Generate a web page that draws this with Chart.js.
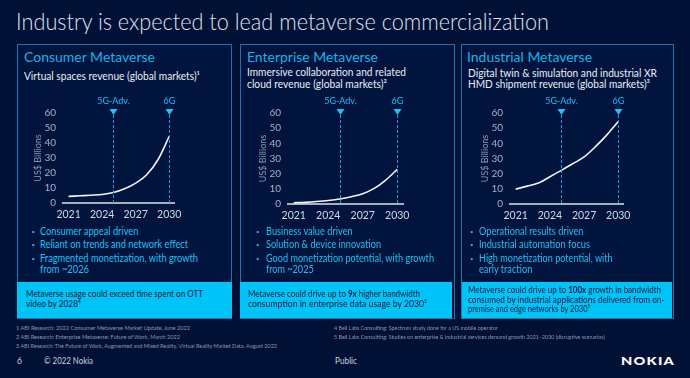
<!DOCTYPE html>
<html><head><meta charset="utf-8">
<script src="https://cdn.jsdelivr.net/npm/chart.js@4.4.1/dist/chart.umd.min.js"></script>
<style>
html,body{margin:0;padding:0;}
body{width:690px;height:378px;background:#001135;position:relative;overflow:hidden;font-family:Lato,"Open Sans",sans-serif;}
.panel{position:absolute;top:44px;width:213px;height:273px;border:1px solid #1479b0;background:#00143d;box-sizing:content-box;}
.box{position:absolute;top:282px;height:36px;background:#00c4f7;}
.t{position:absolute;white-space:nowrap;line-height:0;height:0;transform-origin:0 0;}
.cv{position:absolute;}
.c{color:#1fc0f3;}
.d{color:#4aa9d6;font-size:6px;}
.bt{color:#0a1a3c;}
.fn{color:#8d98ad;font-size:5.6px;}
.ft{color:#c9d0dc;font-size:8.5px;}
</style></head><body>
<div class="t" data-w="533" style="left:16px;top:20.5px;font-size:23px;font-weight:300;color:#dfe5ef">Industry is expected to lead metaverse commercialization</div>

<div class="panel" style="left:17px"></div>
<div class="panel" style="left:240px"></div>
<div class="panel" style="left:461px;width:211px"></div>
<div class="box" style="left:17px;width:215px"></div>
<div class="box" style="left:240px;width:212px"></div>
<div class="box" style="left:462px;width:210px"></div>

<div class="t" data-w="131" style="left:24px;top:57.3px;font-size:14px;color:#19b3e9">Consumer Metaverse</div>
<div class="t" data-w="131" style="left:246.7px;top:57.3px;font-size:14px;color:#19b3e9">Enterprise Metaverse</div>
<div class="t" data-w="125" style="left:467px;top:57.3px;font-size:14px;color:#19b3e9">Industrial Metaverse</div>

<div class="t" data-w="176" style="left:24px;top:76px;font-size:10.5px;color:#e9eef6">Virtual spaces revenue (global markets)¹</div>
<div class="t" data-w="159" style="left:246.7px;top:72px;font-size:10.5px;color:#e9eef6">Immersive collaboration and related</div>
<div class="t" data-w="140" style="left:246.7px;top:83.6px;font-size:10.5px;color:#e9eef6">cloud revenue (global markets)²</div>
<div class="t" data-w="189" style="left:467.7px;top:73px;font-size:10.5px;color:#e9eef6">Digital twin &amp; simulation and industrial XR</div>
<div class="t" data-w="182" style="left:467.7px;top:84.3px;font-size:10.5px;color:#e9eef6">HMD shipment revenue (global markets)³</div>

<canvas id="c1" class="cv" width="160" height="133" style="left:27px;top:92px"></canvas>
<canvas id="c2" class="cv" width="163" height="134" style="left:252px;top:92px"></canvas>
<canvas id="c3" class="cv" width="162" height="134" style="left:474px;top:92px"></canvas>

<!-- bullets -->
<div class="t d" style="left:31.5px;top:231.5px">•</div>
<div class="t c" data-w="98.4" style="left:40.4px;top:230.6px;font-size:10.5px">Consumer appeal driven</div>
<div class="t d" style="left:31.5px;top:245px">•</div>
<div class="t c" data-w="148" style="left:40.4px;top:244.1px;font-size:10.5px">Reliant on trends and network effect</div>
<div class="t d" style="left:31.5px;top:258.5px">•</div>
<div class="t c" data-w="158" style="left:40.4px;top:257.6px;font-size:10.5px">Fragmented monetization, with growth</div>
<div class="t c" data-w="49" style="left:40.4px;top:269.1px;font-size:10.5px">from ~2026</div>

<div class="t d" style="left:256px;top:231.5px">•</div>
<div class="t c" data-w="86.7" style="left:265.9px;top:230.6px;font-size:10.5px">Business value driven</div>
<div class="t d" style="left:256px;top:245px">•</div>
<div class="t c" data-w="115" style="left:265.9px;top:244.1px;font-size:10.5px">Solution &amp; device innovation</div>
<div class="t d" style="left:256px;top:258.5px">•</div>
<div class="t c" data-w="168" style="left:265.9px;top:257.6px;font-size:10.5px">Good monetization potential, with growth</div>
<div class="t c" data-w="47.7" style="left:265.9px;top:269.1px;font-size:10.5px">from ~2025</div>

<div class="t d" style="left:470px;top:231.5px">•</div>
<div class="t c" data-w="104.5" style="left:479px;top:230.6px;font-size:10.5px">Operational results driven</div>
<div class="t d" style="left:470px;top:245px">•</div>
<div class="t c" data-w="111" style="left:479px;top:244.1px;font-size:10.5px">Industrial automation focus</div>
<div class="t d" style="left:470px;top:258.5px">•</div>
<div class="t c" data-w="133.6" style="left:479px;top:257.6px;font-size:10.5px">High monetization potential, with</div>
<div class="t c" data-w="53.3" style="left:479px;top:269.1px;font-size:10.5px">early traction</div>

<!-- blue box text -->
<div class="t bt" data-w="177" style="left:26px;top:294px;font-size:9px">Metaverse usage could exceed time spent on OTT</div>
<div class="t bt" data-w="54.7" style="left:26px;top:304px;font-size:9px">video by 2028⁴</div>
<div class="t bt" data-w="172" style="left:247.6px;top:294px;font-size:9px">Metaverse could drive up to <b>9x</b> higher bandwidth</div>
<div class="t bt" data-w="179" style="left:247.6px;top:304px;font-size:9px">consumption in enterprise data usage by 2030⁵</div>
<div class="t bt" data-w="193" style="left:467.5px;top:289.7px;font-size:9px">Metaverse could drive up to <b>100x</b> growth in bandwidth</div>
<div class="t bt" data-w="196.5" style="left:467.5px;top:299.7px;font-size:9px">consumed by industrial applications delivered from on-</div>
<div class="t bt" data-w="122" style="left:467.5px;top:309px;font-size:9px">premise and edge networks by 2030⁵</div>

<!-- footnotes -->
<div class="t fn" data-w="174" style="left:16px;top:328px">1 ABI Research: 2022 Consumer Metaverse Market Update, June 2022</div>
<div class="t fn" data-w="164" style="left:16px;top:337px">2 ABI Research: Enterprise Metaverse: Future of Work, March 2022</div>
<div class="t fn" data-w="261" style="left:16px;top:346px">3 ABI Research: The Future of Work, Augmented and Mixed Reality, Virtual Reality Market Data, August 2022</div>
<div class="t fn" data-w="164" style="left:333.5px;top:328px">4 Bell Labs Consulting: Spectrum study done for a US mobile operator</div>
<div class="t fn" data-w="271" style="left:333.5px;top:337px">5 Bell Labs Consulting: Studies on enterprise &amp; industrial services demand growth 2021–2030 (disruptive scenarios)</div>

<div class="t ft" style="left:17px;top:361px">6</div>
<div class="t ft" data-w="49" style="left:44px;top:361px">© 2022 Nokia</div>
<div class="t ft" data-w="22" style="left:335px;top:361px">Public</div>
<div class="t" data-w="54" style="left:621px;top:361px;font-size:12px;font-weight:900;color:#ffffff;letter-spacing:1px">NOKIA</div>

<script>
const years = ['2021','2022','2023','2024','2025','2026','2027','2028','2029','2030'];
const xTickLabels = ['2021','2024','2027','2030'];
const yTicksMin = 0, yTicksMax = 60, yTickStep = 10;
const consumerRevenue   = [4.4, 4.8, 5.2, 5.7, 7.0, 9.5, 13.3, 19.0, 29.0, 44.5];
const enterpriseRevenue = [0.8, 1.1, 1.6, 2.3, 3.3, 4.8, 6.8, 10.3, 15.8, 22.8];
const industrialRevenue = [9.8, 11.8, 13.8, 18.0, 22.2, 26.5, 31.0, 37.8, 45.6, 54.3];
const markerYears  = ['2025','2030'];
const markerLabels = ['5G-Adv.','6G'];
const yAxisTitle = 'US$ Billions';

document.querySelectorAll('[data-w]').forEach(el=>{
  const w = el.getBoundingClientRect().width;
  const t = parseFloat(el.dataset.w);
  if (w>0) el.style.transform = 'scaleX(' + (t/w) + ')';
});

Chart.defaults.font.family = 'Lato, "Open Sans", sans-serif';

const markerPlugin = {
  id: 'markers',
  afterDatasetsDraw(chart){
    const {ctx, chartArea, scales} = chart;
    const x = scales.x;
    markerYears.forEach((yr, i) => {
      const px = Math.round(x.getPixelForValue(years.indexOf(yr))) + 0.5;
      const triTop = chartArea.top - 4;
      const triH = 6, triW = 8;
      ctx.save();
      ctx.strokeStyle = '#1b9fd6';
      ctx.lineWidth = 1;
      ctx.setLineDash([3, 2]);
      ctx.beginPath();
      ctx.moveTo(px, triTop + triH);
      ctx.lineTo(px, chartArea.bottom);
      ctx.stroke();
      ctx.setLineDash([]);
      ctx.fillStyle = '#1cc2f5';
      ctx.beginPath();
      ctx.moveTo(px - triW/2, triTop);
      ctx.lineTo(px + triW/2, triTop);
      ctx.lineTo(px, triTop + triH);
      ctx.closePath();
      ctx.fill();
      ctx.font = '9px Lato, sans-serif';
      ctx.textAlign = 'center';
      ctx.textBaseline = 'middle';
      ctx.fillText(markerLabels[i], px, chartArea.top - 12);
      ctx.restore();
    });
  }
};

function makeChart(id, data, areaWidth){
  const canvas = document.getElementById(id);
  return new Chart(canvas, {
    type: 'line',
    data: {
      labels: years,
      datasets: [{
        data: data,
        borderColor: '#f2f4f8',
        borderWidth: 1.6,
        pointRadius: 0,
        tension: 0.4,
        cubicInterpolationMode: 'monotone',
        fill: false
      }]
    },
    options: {
      responsive: false,
      animation: false,
      devicePixelRatio: 1,
      layout: {padding: {top: 21, right: canvas.width - 36 - areaWidth, left: 0, bottom: 0}},
      plugins: {legend: {display: false}, tooltip: {enabled: false}},
      scales: {
        x: {
          offset: true,
          grid: {display: false, drawTicks: false},
          border: {display: true, color: '#a7afbf', width: 2},
          ticks: {
            autoSkip: false, maxRotation: 0, padding: 5,
            color: '#d3d8e2', font: {size: 10.5},
            callback: (v, i) => xTickLabels.includes(years[i]) ? years[i] : ''
          },
          afterFit: s => { s.height = 22; }
        },
        y: {
          min: yTicksMin, max: yTicksMax,
          grid: {display: false, drawTicks: false},
          border: {display: false},
          ticks: {stepSize: yTickStep, padding: 7, color: '#a9b1c2', font: {size: 10}},
          title: {display: true, text: yAxisTitle, color: '#8f99ad', font: {size: 9}, padding: {top: 6, bottom: 0}},
          afterFit: s => { s.width = 36; }
        }
      }
    },
    plugins: [markerPlugin]
  });
}
makeChart('c1', consumerRevenue, 113);
makeChart('c2', enterpriseRevenue, 116);
makeChart('c3', industrialRevenue, 115);
</script>
</body></html>
